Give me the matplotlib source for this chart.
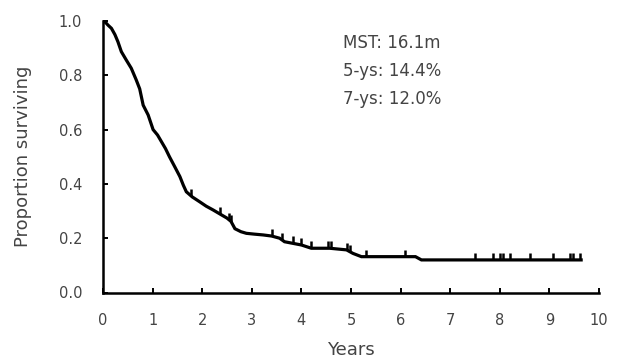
import matplotlib
matplotlib.use("Agg")
import matplotlib.pyplot as plt
import numpy as np

# Kaplan-Meier curve (years, proportion surviving)
time_years = [0.0, 0.05, 0.10, 0.17, 0.24, 0.30, 0.37, 0.47, 0.57, 0.67, 0.74, 0.81,
              0.91, 1.01, 1.10, 1.18, 1.26, 1.34, 1.45, 1.55, 1.62, 1.68, 1.80,
              1.95, 2.08, 2.22, 2.35, 2.50, 2.58, 2.66, 2.78, 2.89, 3.05, 3.23,
              3.40, 3.56, 3.66, 3.83, 4.00, 4.20, 4.57, 4.91, 5.04, 5.21, 6.30,
              6.42, 9.64]
survival = [1.0, 0.995, 0.985, 0.973, 0.950, 0.924, 0.887, 0.856, 0.826, 0.783, 0.750, 0.690,
            0.654, 0.600, 0.580, 0.555, 0.530, 0.500, 0.462, 0.427, 0.395, 0.371, 0.352,
            0.334, 0.318, 0.304, 0.290, 0.274, 0.262, 0.235, 0.224, 0.218, 0.215, 0.212,
            0.208, 0.200, 0.187, 0.181, 0.175, 0.163, 0.163, 0.157, 0.144, 0.132, 0.132,
            0.120, 0.120]

# censored observations (years)
censor_times = [1.78, 2.35, 2.55, 2.59, 3.40, 3.60, 3.83, 4.00, 4.20, 4.54, 4.60,
                4.91, 4.97, 5.31, 6.08, 7.49, 7.86, 8.00, 8.06, 8.20, 8.60, 9.07,
                9.41, 9.48, 9.61]

x_ticks = list(range(0, 11))
y_ticks = [0.0, 0.2, 0.4, 0.6, 0.8, 1.0]
annotation_lines = ["MST: 16.1m", "5-ys: 14.4%", "7-ys: 12.0%"]

text_color = "#444444"
plt.rcParams['font.family'] = ['DejaVu Sans']

fig = plt.figure(figsize=(6.19, 3.63), dpi=100)
ax = fig.add_axes([103/619, 1 - 292.5/363, (599 - 103)/619, (292.5 - 21)/363])

ax.plot(time_years, survival, color="black", lw=2.3, solid_joinstyle="miter")
censor_y = np.interp(censor_times, time_years, survival)
ax.plot(censor_times, censor_y, linestyle="none", marker=2, markersize=5,
        markeredgewidth=1.8, color="black")

ax.set_xlim(0, 10)
ax.set_ylim(0, 1.0)
ax.set_xticks(x_ticks)
ax.set_yticks(y_ticks)
ax.set_yticklabels([f"{v:.1f}" for v in y_ticks])

for side in ("top", "right"):
    ax.spines[side].set_visible(False)
for side in ("left", "bottom"):
    ax.spines[side].set_linewidth(1.8)
    ax.spines[side].set_capstyle("projecting")

ax.tick_params(axis="both", direction="in", length=3.5, width=1.4, colors="black",
               labelcolor=text_color, labelsize=10.5)
ax.tick_params(axis="x", pad=15)
ax.tick_params(axis="y", pad=15)

ax.set_xlabel("Years", fontsize=13, color=text_color, labelpad=9)
ax.set_ylabel("Proportion surviving", fontsize=13, color=text_color, labelpad=19)

for i, line in enumerate(annotation_lines):
    ax.text(343/619, 1 - (43 + i*28)/363, line, transform=fig.transFigure,
            fontsize=12, color=text_color, ha="left", va="center")

fig.savefig("out.png", dpi=100)
